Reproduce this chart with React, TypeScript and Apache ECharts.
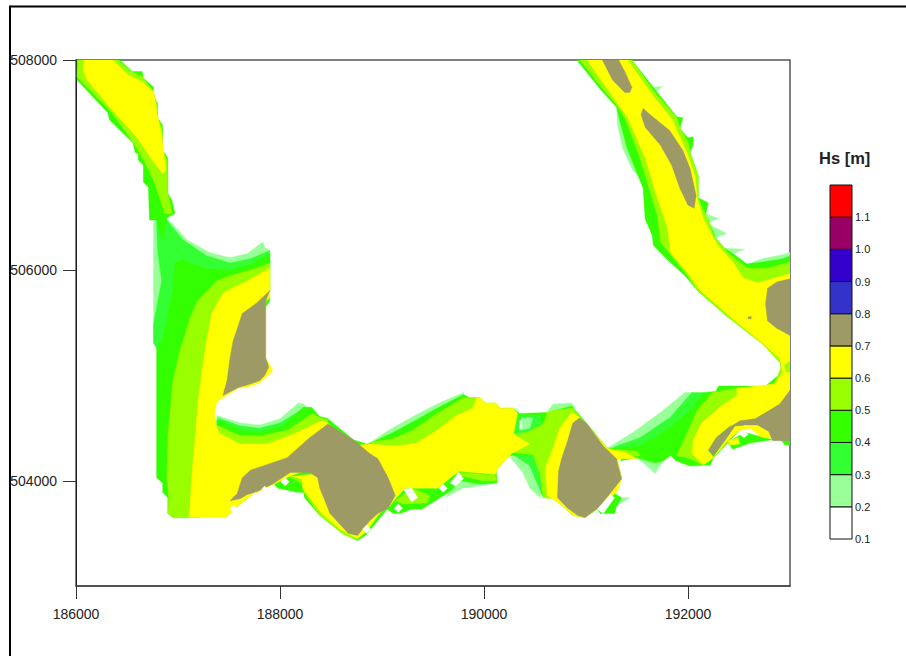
import React, { useEffect, useRef } from "react";
import * as echarts from "echarts";

const xTicks = [186000, 188000, 190000, 192000];
const yTicks = [504000, 506000, 508000];
const legendTicks = [0.1, 0.2, 0.3, 0.4, 0.5, 0.6, 0.7, 0.8, 0.9, 1.0, 1.1];
const legendLower = [0.1, 0.2, 0.3, 0.4, 0.5, 0.6, 0.7, 0.8, 0.9, 1.0, 1.1];
const legendUpper = [0.2, 0.3, 0.4, 0.5, 0.6, 0.7, 0.8, 0.9, 1.0, 1.1, 1.2];
const bandColors = ["#FFFFFF", "#99FF99", "#33FF33", "#33FF00", "#99FF00", "#FFFF00", "#9E9A66", "#3333CC", "#3300CC", "#990066", "#FF0000"];

// Contour outlines as flat x,y lists in map metres.
const wingPale = [186890,506500,187090,506290,187310,506170,187510,506120,187680,506160,187830,506270,187850,506220,187900,506190,187900,505810,186820,505240,186760,505310,186760,506460,186790,506490];
const bayPale = [187380,504620,187610,504550,187800,504530,188000,504590,188180,504740,188230,504730,188290,504670,188000,504480,187610,504430,187380,504520];
const midStripPale = [190250,504230,190380,504080,190450,503930,190550,503840,190600,504000,190500,504240];
const midTopPale = [188910,504380,189080,504490,189300,504610,189540,504730,189800,504840,189800,504790,189300,504520];
const midRightTopPale = [190620,504660,190680,504730,190860,504740,190900,504690];
const bottomPale = [189620,503840,189790,503930,189960,503950,190120,503980,190130,504030,189760,504020];
const tailPale = [191350,503840,191430,503840,191300,503760];
const wedgePale = [191210,504310,191460,504460,191730,504650,191970,504840,192050,504840,191790,504570,191530,504350,191270,504300];
const wedgeTailPale = [191500,504220,191680,504070,191760,504190,191630,504210];
const spike1 = [191660,507740,191750,507750,191680,507690];
const spike2 = [192170,506540,192300,506490,192200,506460];
const spike3 = [192220,506430,192380,506350,192270,506310];
const spike4 = [192360,506210,192560,506200,192440,506160];
const eastBayPale = [192580,506060,192730,506110,192930,506150,193000,506170,193000,506110,192730,506060];
const neFringePale = [191300,507550,191310,507380,191360,507160,191460,506950,191530,506880,191490,507000,191400,507240,191350,507470];

const fan33 = [186890,506480,187050,506290,187280,506140,187510,506070,187710,506110,187900,506190,187900,505810,187020,505330,186850,505310,186790,505260,186760,505310,186760,505490,186840,505900,186800,506190,186790,506460];
const bay33 = [187390,504600,187610,504520,187800,504500,188000,504550,188250,504700,188310,504670,188200,504480,187710,504380,187410,504480];
const midStrip33 = [190300,504240,190450,504140,190520,503980,190580,503840,190620,504000,190500,504240];
const wedge33 = [191270,504320,191530,504410,191820,504600,192040,504840,192150,504840,192020,504640,191890,504350,191530,504290];

const nw00 = [186010,508000,186430,508000,186550,507890,186650,507890,186660,507830,186760,507740,186760,507640,186800,507590,186800,507450,186850,507380,186850,507140,186900,507070,186900,506730,186940,506670,186970,506540,186890,506500,186850,506270,186790,506480,186720,506480,186710,506790,186660,506840,186660,507000,186610,507050,186610,507110,186580,507120,186560,507210,186330,507430,186310,507500,186010,507810];
const left00 = [186970,506070,187040,506100,187250,506020,187480,506000,187710,506050,187900,506160,187900,505710,187270,504760,187220,503650,186950,503650,186900,503690,186900,503840,186850,503890,186850,503980,186790,504030,186790,505260,186850,505340,186950,505810];
const bay00 = [187380,504580,187610,504480,187800,504460,188030,504520,188230,504700,188310,504700,188390,504610,188470,504590,188410,504520,188000,504330,187510,504330,187380,504480];
const mid00 = [188390,504610,188470,504590,188720,504390,188850,504350,188880,504360,189110,504460,189300,504560,189540,504690,189800,504820,189860,504790,189960,504790,190010,504740,190110,504740,190160,504690,190290,504690,190350,504640,190620,504650,190860,504710,190970,504590,191210,504310,191330,504240,191310,504190,191350,504020,191280,503880,191350,503840,191300,503760,191280,503690,191140,503690,191110,503730,190990,503650,190870,503670,190770,503760,190670,503840,190600,503840,190550,504060,190480,504240,190250,504240,190120,504100,190130,503980,189960,503970,189760,504000,189670,503900,189570,503840,189490,503790,189390,503730,189290,503730,189180,503690,189110,503690,189050,503730,188940,503600,188850,503490,188760,503430,188620,503500,188390,503670,188240,503840,188230,503890,188170,503890,187980,503930,187930,503980,187850,503930,187760,503890,187680,503830,187610,503780,187510,503690,187460,503650,187460,504000,188200,504480];
const wedge00 = [191210,504310,191380,504320,191530,504330,191820,504500,192020,504670,192150,504840,192270,504850,192300,504900,192480,504900,192760,504900,192760,504810,192510,504480,192250,504220,192220,504150,192020,504140,191880,504190,191830,504240,191760,504190,191680,504170,191500,504220,191340,504190,191350,504230,191260,504290];
const ne00 = [190910,508000,191450,508000,191660,507740,191890,507460,191950,507450,191920,507350,192000,507260,192050,507270,192050,507190,192020,507120,192100,506900,192100,506690,192200,506640,192170,506520,192220,506430,192270,506310,192360,506210,192440,506160,192580,506060,192730,506080,192930,506110,193000,506140,193000,504340,192950,504340,192920,504380,192710,504520,192480,504810,192760,504900,192920,505030,192900,505140,192760,505290,192460,505540,192410,505540,192100,505800,191970,505950,191800,506100,191660,506240,191650,506330,191580,506490,191560,506780,191490,506950,191400,507170,191330,507430,191300,507550,191150,507710];
const sePatch00 = [192410,504380,192560,504460,192710,504420,192830,504390,192610,504360,192440,504300,192390,504360];
const midPatch33 = [190350,504620,190550,504620,190570,504550,190450,504460,190320,504430,190280,504450];
const midPatchPale = [190370,504600,190480,504600,190450,504500,190350,504480];
const midPatchWhite = [190350,504570,190370,504570,190370,504500,190350,504500];

const nw99 = [186020,508000,186410,508000,186530,507900,186650,507840,186760,507700,186800,507550,186800,507450,186840,507360,186850,507140,186890,507050,186900,506730,186930,506600,186940,506540,186870,506540,186820,506690,186760,506860,186690,507000,186580,507190,186350,507500,186010,507840];
const left99 = [187900,506070,187900,505810,187270,504760,187170,503650,186950,503650,186900,503690,186910,503840,186890,504030,186900,504410,186950,504950,187020,505240,187120,505550,187190,505710,187290,505810,187380,505900,187510,505950,187770,506020];
const bay99 = [187370,504530,187610,504430,187830,504430,188070,504480,188320,504640,188390,504600,188470,504580,188440,504480,188000,504290,187460,504380];
const midTop99 = [188910,504370,189110,504400,189300,504480,189540,504640,189800,504790,189860,504790,189960,504790,189960,504570,189180,504290,188880,504330];
const bottom99a = [189130,503810,189290,503930,189470,503860,189440,503790,189210,503780];
const bottom99b = [189760,504080,190110,504050,190130,504000,189990,504000,189760,504050];
const island99 = [188100,504040,188200,504020,188230,503900,188390,503670,188620,503490,188760,503440,188760,503520,188490,503810];
const midRight99 = [190310,504450,190420,504460,190580,504540,190620,504650,190680,504670,190870,504690,190950,504600,190860,504650,190740,504500,190670,504290,190600,504120,190620,503860,190670,503830,190580,503840,190550,504060,190480,504250,190280,504270,190450,504350];
const wedgeLeft99 = [191300,504300,191500,504280,191530,504240,191340,504220];
const wedge99 = [192240,504840,192480,504880,192480,504810,192280,504690,192110,504540,192050,504380,192040,504260,192150,504150,192020,504210,191890,504240,191990,504450,192090,504670];
const ne99 = [190940,508000,191160,507730,191300,507570,191380,507450,191510,507120,191600,506840,191700,506520,191730,506270,191970,505980,192100,505800,192410,505540,192740,505290,192920,505100,192850,504930,192760,504900,193000,504810,193000,506080,192780,506020,192580,506020,192390,506170,192250,506330,192200,506490,192150,506570,192100,506690,192100,506900,192020,507120,192000,507220,191920,507360,191890,507450,191660,507710,191450,508000];

const nwYellow = [186080,508000,186360,508000,186510,507860,186650,507790,186760,507700,186800,507460,186840,507300,186880,506950,186850,506920,186760,507030,186600,507260,186330,507550,186110,507810,186070,507900];
const leftYellow = [187900,506020,187900,505740,187860,505710,187860,505170,187930,505050,187880,505000,187800,504930,187680,504890,187590,504880,187440,504790,187380,504750,187360,504640,187370,504540,187410,504450,187610,504350,187870,504350,188100,504430,188410,504570,188470,504550,188640,504380,188640,504090,188200,504090,187610,503810,187510,503690,187460,503650,187110,503650,187140,504100,187200,504790,187270,505270,187330,505590,187440,505780,187530,505830,187680,505900];
const stripYellow = [187510,503690,187610,503780,187680,503830,187760,503890,187850,503930,187930,503980,188050,504040,188290,504100,188000,504150,187560,503910];
const islandYellow = [188110,504040,188210,504020,188230,503910,188290,503840,188410,503690,188590,503540,188760,503450,188850,503520,188960,503670,189100,503810,189130,503910,188590,504090];
const midYellow = [188880,504350,189140,504330,189340,504360,189540,504480,189730,504620,189890,504690,189930,504790,189960,504790,190010,504740,190110,504740,190160,504690,190290,504690,190330,504640,190290,504450,190320,504430,190450,504350,190270,504260,190140,504120,190110,504060,189760,504090,189670,504030,189550,503930,189230,503930,189140,503840,189060,503740,188880,503810,188690,504090,188690,504330];
const rightYellow = [190860,504650,190950,504600,191210,504310,191380,504270,191500,504210,191350,504210,191310,504190,191350,504020,191310,503900,191140,503760,190990,503650,190870,503670,190770,503760,190620,503860,190600,504120,190670,504290,190740,504500];
const eastYellow = [191010,508000,191410,508000,191650,507670,191850,507430,191900,507310,191990,507120,192070,506900,192090,506690,192150,506490,192200,506400,192290,506240,192440,506080,192540,505930,192680,505880,193000,505970,193000,505140,192940,505100,192960,505030,193000,505030,193000,504840,192900,504730,192800,504670,192660,504590,192410,504520,192270,504410,192200,504290,192250,504220,192150,504150,192040,504260,192050,504380,192120,504540,192290,504690,192480,504810,192480,504880,192850,504920,192930,505030,192900,505160,192740,505300,192440,505540,192120,505810,192000,505970,191830,506170,191800,506400,191700,506690,191580,507070,191410,507450,191300,507600];
const loopYellow = [192460,504520,192680,504530,192790,504470,192830,504400,192710,504420,192610,504500,192510,504480,192390,504380,192250,504220,192360,504380];
const bitYellow = [192390,504380,192490,504410,192510,504350,192410,504340];

const oliveLeft = [187900,505810,187860,505710,187860,505170,187880,505110,187890,505080,187850,505000,187800,504950,187680,504910,187600,504890,187440,504810,187480,504950,187510,505170,187540,505330,187630,505590,187770,505690,187880,505790];
const oliveCentre = [188470,504540,188720,504390,188880,504260,188960,504210,189060,504030,189130,503860,189060,503740,188960,503690,188880,503620,188810,503540,188760,503480,188670,503500,188490,503690,188390,503930,188370,504030,188290,504080,188100,504080,187930,503970,187760,503890,187680,503870,187610,503830,187510,503810,187580,503880,187630,504030,187710,504100,188070,504220,188290,504410];
const oliveRight = [190940,504600,190870,504550,190820,504380,190760,504210,190730,504090,190720,503840,190820,503740,190920,503670,190990,503650,191140,503760,191350,504020,191310,504160,191300,504210,191170,504330,191010,504540];
const oliveSouthEast = [193000,504860,192900,504730,192800,504670,192660,504590,192510,504570,192390,504500,192280,504410,192200,504290,192250,504240,192360,504380,192460,504520,192560,504530,192680,504530,192790,504470,192830,504380,193000,504380];
const oliveNorth1 = [191160,508000,191320,508000,191380,507890,191450,507740,191430,507690,191380,507690,191260,507810];
const oliveNorth2 = [191560,507540,191630,507480,191820,507330,191950,507140,192020,506970,192080,506710,192060,506590,192000,506620,191920,506780,191840,507000,191730,507190,191580,507360,191540,507480];
const oliveEast = [193000,505920,192870,505890,192780,505830,192760,505680,192780,505520,192870,505450,193000,505380];
const oliveDot = [192590,505560,192620,505560,192620,505540,192590,505540];

const hole1 = [187550,503770,187590,503730,187550,503690,187510,503730];
const hole2 = [187760,503890,187790,503870,187760,503840,187730,503870];
const hole3 = [187850,503950,187880,503920,187850,503890,187820,503920];
const hole4 = [188050,504030,188090,503990,188050,503950,188010,503990];
const hole5 = [188850,503580,188890,503540,188850,503500,188810,503540];
const hole6 = [189160,503780,189200,503740,189160,503700,189120,503740];
const hole7 = [189210,503920,189290,503930,189350,503840,189290,503800];
const hole8 = [189600,503970,189640,503930,189600,503890,189560,503930];
const hole9 = [189670,503980,189750,504080,189800,504020,189720,503950];
const hole10 = [191110,503730,191240,503870,191280,503840,191170,503690];
const hole11 = [192550,504480,192590,504440,192550,504410,192510,504440];

// Painting order, bottom to top: [band index into bandColors, outline]
const layers: [number, number[]][] = [
  [1, wingPale], [1, bayPale], [1, midStripPale], [1, midTopPale], [1, midRightTopPale], [1, bottomPale], [1, tailPale],
  [1, wedgePale], [1, wedgeTailPale], [1, spike1], [1, spike2], [1, spike3], [1, spike4], [1, eastBayPale], [1, neFringePale],
  [2, fan33], [2, bay33], [2, midStrip33], [2, wedge33],
  [3, nw00], [3, left00], [3, bay00], [3, mid00], [3, wedge00], [3, ne00], [3, sePatch00],
  [2, midPatch33], [1, midPatchPale], [0, midPatchWhite],
  [4, nw99], [4, left99], [4, bay99], [4, midTop99], [4, bottom99a], [4, bottom99b], [4, island99], [4, midRight99], [4, wedgeLeft99], [4, wedge99], [4, ne99],
  [5, nwYellow], [5, leftYellow], [5, stripYellow], [5, islandYellow], [5, midYellow], [5, rightYellow], [5, eastYellow], [5, loopYellow], [5, bitYellow],
  [6, oliveLeft], [6, oliveCentre], [6, oliveRight], [6, oliveSouthEast], [6, oliveNorth1], [6, oliveNorth2], [6, oliveEast], [6, oliveDot],
  [0, hole1], [0, hole2], [0, hole3], [0, hole4], [0, hole5], [0, hole6], [0, hole7], [0, hole8], [0, hole9], [0, hole10], [0, hole11],
];

const FONT = "Liberation Sans";

export default function App() {
  const ref = useRef<HTMLDivElement>(null);
  useEffect(() => {
    const chart = echarts.init(ref.current!, null, { renderer: "svg" });
    chart.setOption({
      animation: false,
      backgroundColor: "#FFFFFF",
      textStyle: { fontFamily: FONT },
      title: {
        text: "Hs [m]",
        left: 819,
        top: 149,
        padding: 0,
        textStyle: { fontFamily: FONT, fontSize: 16.5, fontWeight: "bold", color: "#222222" },
      },
      graphic: [
        { type: "line", shape: { x1: 10, y1: 6.5, x2: 906, y2: 6.5 }, style: { stroke: "#000000", lineWidth: 2 } },
        { type: "line", shape: { x1: 10, y1: 5.5, x2: 10, y2: 656 }, style: { stroke: "#000000", lineWidth: 2 } },
      ],
      grid: [
        { left: 76, top: 60, width: 714, height: 526, show: true, borderColor: "#555555", borderWidth: 1.5, backgroundColor: "transparent" },
        { left: 830, top: 185, width: 22, height: 354 },
      ],
      xAxis: [
        {
          type: "value", gridIndex: 0, min: 186000, max: 193000,
          splitLine: { show: false },
          axisLine: { show: true, lineStyle: { color: "#444444", width: 1.5 } },
          axisTick: { show: true, length: 13, customValues: xTicks, lineStyle: { color: "#333333", width: 1 } },
          axisLabel: { customValues: xTicks, margin: 21, fontSize: 14, color: "#222222", fontFamily: FONT, formatter: (v: number) => String(v) },
        },
        { type: "value", gridIndex: 1, min: 0, max: 1, show: false },
      ],
      yAxis: [
        {
          type: "value", gridIndex: 0, min: 503000, max: 508000,
          splitLine: { show: false },
          axisLine: { show: true, lineStyle: { color: "#222222", width: 1 } },
          axisTick: { show: true, length: 13, customValues: yTicks, lineStyle: { color: "#333333", width: 1 } },
          axisLabel: { customValues: yTicks, margin: 19, fontSize: 14, color: "#222222", fontFamily: FONT, formatter: (v: number) => String(v) },
        },
        {
          type: "value", gridIndex: 1, position: "right", min: 0.1, max: 1.2,
          splitLine: { show: false },
          axisLine: { show: false },
          axisTick: { show: false },
          axisLabel: { customValues: legendTicks, margin: 3, fontSize: 11, color: "#222222", fontFamily: FONT, formatter: (v: number) => v.toFixed(1) },
        },
      ],
      series: [
        {
          type: "custom",
          xAxisIndex: 0,
          yAxisIndex: 0,
          silent: true,
          clip: true,
          encode: { x: 0, y: 1 },
          data: layers.map(([, p]) => [p[0], p[1]]),
          renderItem: (params: any, api: any) => {
            const [band, flat] = layers[params.dataIndex];
            const points: number[][] = [];
            for (let i = 0; i < flat.length; i += 2) points.push(api.coord([flat[i], flat[i + 1]]));
            const color = bandColors[band];
            return { type: "polygon", shape: { points }, style: { fill: color, stroke: color, lineWidth: 0.4 } };
          },
        },
        {
          type: "custom",
          xAxisIndex: 1,
          yAxisIndex: 1,
          silent: true,
          clip: false,
          encode: { x: 0, y: 1 },
          data: legendLower.map((v, i) => [0, v, legendUpper[i]]),
          renderItem: (params: any, api: any) => {
            const lo = api.coord([0, api.value(1)]);
            const hi = api.coord([1, api.value(2)]);
            return {
              type: "rect",
              shape: { x: lo[0], y: hi[1], width: hi[0] - lo[0], height: lo[1] - hi[1] },
              style: { fill: bandColors[params.dataIndex], stroke: "#111111", lineWidth: 1 },
            };
          },
        },
      ],
    });
    return () => chart.dispose();
  }, []);
  return <div ref={ref} style={{ position: "fixed", left: 0, top: 0, width: 906, height: 656 }} />;
}
